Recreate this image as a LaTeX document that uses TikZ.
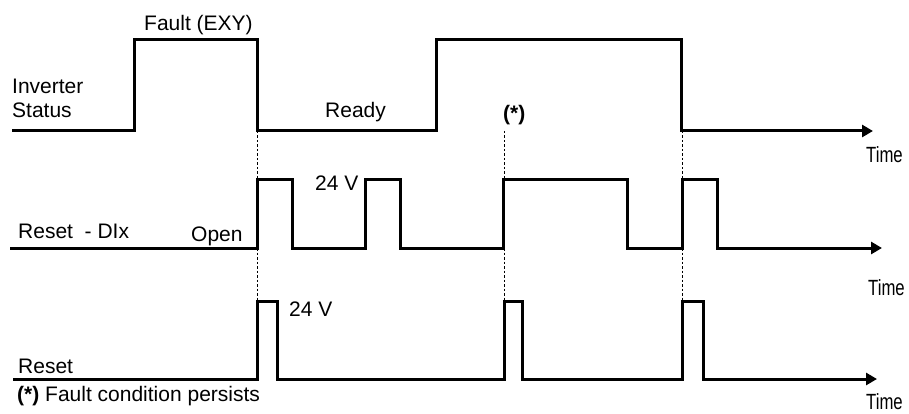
\documentclass[tikz,border=0pt]{standalone}
\usepackage{fontspec}
\setmainfont{Liberation Sans}
\newfontfamily\narrowfont{Liberation Sans}[FakeStretch=0.76]
\usetikzlibrary{arrows.meta}
\newcommand{\lab}{\fontsize{21}{25}\selectfont}
\newcommand{\tlab}{\fontsize{22}{26}\selectfont}
\begin{document}
\begin{tikzpicture}[x=1pt,y=-1pt,
  wave/.style={line width=3pt, line join=miter},
  axarrow/.style={-{Triangle[length=11pt,width=12pt]}},
  dotline/.style={line width=1pt, dash pattern=on 2.5pt off 2pt},
  lbl/.style={inner sep=0pt, anchor=base west, font=\lab},
  timelbl/.style={inner sep=0pt, anchor=base west, font=\tlab\narrowfont}]
\fill[white] (0,0) rectangle (909,414);
\useasboundingbox (0,0) rectangle (909,414);

% dotted guide lines
\coordinate (d1t) at (257,131); \coordinate (d1b) at (257,301);
\coordinate (d2t) at (504,131); \coordinate (d2b) at (504,301);
\coordinate (d3t) at (682,131); \coordinate (d3b) at (682,301);
\draw[dotline] (d1t) -- (d1b);
\draw[dotline] (d2t) -- (d2b);
\draw[dotline] (d3t) -- (d3b);

% Inverter status
\coordinate (s0) at (12,131);
\coordinate (s1) at (873,131);
\draw[wave,axarrow] (s0) -- (134,131) -- (134,40) -- (257,40) -- (257,131)
  -- (436,131) -- (436,40) -- (681,40) -- (681,131) -- (s1);

% Reset - DIx
\coordinate (r0) at (10,248);
\coordinate (r1) at (882,248);
\draw[wave,axarrow] (r0) -- (257,248) -- (257,179) -- (292,179) -- (292,248)
  -- (365,248) -- (365,179) -- (400,179) -- (400,248)
  -- (503,248) -- (503,179) -- (627,179) -- (627,248)
  -- (682,248) -- (682,179) -- (717,179) -- (717,248) -- (r1);

% Reset
\coordinate (q0) at (13,379);
\coordinate (q1) at (877,379);
\draw[wave,axarrow] (q0) -- (257,379) -- (257,301) -- (277,301) -- (277,379)
  -- (504,379) -- (504,301) -- (522,301) -- (522,379)
  -- (682,379) -- (682,301) -- (703,301) -- (703,379) -- (q1);

% labels
\node[lbl] (fault) at (144,31) {Fault (EXY)};
\node[lbl] (inv) at (12,94) {Inverter};
\node[lbl] (stat) at (12,118) {Status};
\node[lbl] (ready) at (325,118) {Ready};
\node[lbl,font=\lab\bfseries] (star) at (503,121) {(*)};
\node[timelbl] (time1) at (866,163) {Time};
\node[lbl] (rdix) at (18,238) {Reset\ \ - DIx};
\node[lbl] (open) at (191,241) {Open};
\node[lbl] (v24a) at (315,190) {24 V};
\node[timelbl] (time2) at (868,295) {Time};
\node[lbl] (v24b) at (289,316) {24 V};
\node[lbl] (reset) at (18,373) {Reset};
\node[lbl] (note) at (17,401) {\textbf{(*)} Fault condition persists};
\node[timelbl] (time3) at (866,409) {Time};
\end{tikzpicture}
\end{document}
